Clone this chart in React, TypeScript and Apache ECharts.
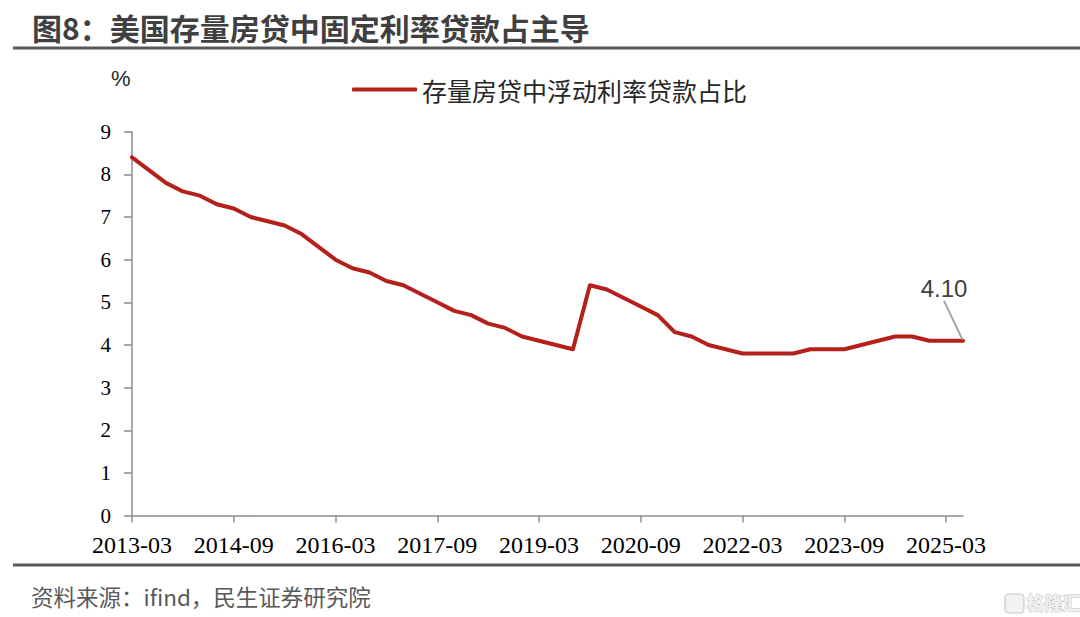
import React, { useEffect, useRef } from "react";
import * as echarts from "echarts";

const categories = [
  "2013-03", "2013-06", "2013-09", "2013-12",
  "2014-03", "2014-06", "2014-09", "2014-12",
  "2015-03", "2015-06", "2015-09", "2015-12",
  "2016-03", "2016-06", "2016-09", "2016-12",
  "2017-03", "2017-06", "2017-09", "2017-12",
  "2018-03", "2018-06", "2018-09", "2018-12",
  "2019-03", "2019-06", "2019-09", "2019-12",
  "2020-03", "2020-06", "2020-09", "2020-12",
  "2021-03", "2021-06", "2021-09", "2021-12",
  "2022-03", "2022-06", "2022-09", "2022-12",
  "2023-03", "2023-06", "2023-09", "2023-12",
  "2024-03", "2024-06", "2024-09", "2024-12",
  "2025-03", "2025-06",
];

const floatingShare = [
  8.4, 8.1, 7.8, 7.6,
  7.5, 7.3, 7.2, 7.0,
  6.9, 6.8, 6.6, 6.3,
  6.0, 5.8, 5.7, 5.5,
  5.4, 5.2, 5.0, 4.8,
  4.7, 4.5, 4.4, 4.2,
  4.1, 4.0, 3.9, 5.4,
  5.3, 5.1, 4.9, 4.7,
  4.3, 4.2, 4.0, 3.9,
  3.8, 3.8, 3.8, 3.8,
  3.9, 3.9, 3.9, 4.0,
  4.1, 4.2, 4.2, 4.1,
  4.1, 4.1,
];

const seriesName = "存量房贷中浮动利率贷款占比";
const titleText = "图8：美国存量房贷中固定利率贷款占主导";
const sourceText = "资料来源：ifind，民生证券研究院";
const unitText = "%";
const lastLabel = "4.10";

const RED = "#B3211A";
const CJK = "'Noto Sans CJK SC', 'Noto Sans', sans-serif";
const SERIF = "'Liberation Serif', 'DejaVu Serif', serif";
const SANS = "'Liberation Sans', Arial, sans-serif";

export default function App() {
  const ref = useRef<HTMLDivElement>(null);

  useEffect(() => {
    document.body.style.margin = "0";
    if (!ref.current) return;
    const chart = echarts.init(ref.current, undefined, { renderer: "svg" });
    const lastIdx = floatingShare.length - 1;
    const data = floatingShare.map((v, i) =>
      i === lastIdx
        ? {
            value: v,
            symbol: "circle",
            symbolSize: 2,
            label: {
              show: true,
              position: "top",
              distance: 5,
              formatter: lastLabel,
              fontFamily: SANS,
              fontSize: 24,
              color: "#404040",
            },
            labelLine: { show: true, lineStyle: { color: "#A6A6A6", width: 2 } },
          }
        : { value: v, symbol: "none" }
    );

    chart.setOption({
      animation: false,
      backgroundColor: "#ffffff",
      grid: { left: 132, right: 117, top: 131.7, bottom: 101.4, containLabel: false },
      legend: {
        data: [seriesName],
        left: 347,
        top: 72,
        icon: "roundRect",
        itemWidth: 65,
        itemHeight: 4,
        itemGap: 6,
        textStyle: { fontFamily: CJK, fontSize: 25, color: "#262626" },
      },
      xAxis: {
        type: "category",
        data: categories,
        boundaryGap: false,
        axisLine: { show: true, lineStyle: { color: "#8C8C8C", width: 1.5 } },
        axisTick: { show: true, interval: 5, length: 7, lineStyle: { color: "#8C8C8C", width: 1.5 } },
        axisLabel: {
          interval: 5,
          margin: 17,
          fontFamily: SERIF,
          fontSize: 24,
          color: "#000000",
        },
        splitLine: { show: false },
      },
      yAxis: {
        type: "value",
        min: 0,
        max: 9,
        interval: 1,
        axisLine: { show: true, lineStyle: { color: "#8C8C8C", width: 1.5 } },
        axisTick: { show: true, length: 8, lineStyle: { color: "#8C8C8C", width: 1.5 } },
        axisLabel: { margin: 21, fontFamily: SERIF, fontSize: 21, color: "#000000" },
        splitLine: { show: false },
      },
      series: [
        {
          name: seriesName,
          type: "line",
          data,
          showSymbol: true,
          showAllSymbol: true,
          symbol: "circle",
          symbolSize: 2,
          smooth: false,
          lineStyle: { color: RED, width: 4, cap: "round", join: "round" },
          itemStyle: { color: RED },
          labelLayout: { dx: -19, dy: -34 },
          emphasis: { disabled: true },
        },
      ],
      graphic: [
        {
          type: "text",
          left: 32,
          top: 11.5,
          style: {
            text: titleText,
            fontFamily: CJK,
            fontWeight: "bold",
            fontSize: 30,
            fill: "#404040",
          },
        },
        {
          type: "rect",
          shape: { x: 13, y: 46.5, width: 1067, height: 3 },
          style: { fill: "#595959" },
        },
        {
          type: "text",
          left: 111,
          top: 67,
          style: { text: unitText, fontFamily: SANS, fontSize: 22, fill: "#262626" },
        },
        {
          type: "rect",
          shape: { x: 13, y: 563.5, width: 1067, height: 3 },
          style: { fill: "#595959" },
        },
        {
          type: "text",
          left: 31,
          top: 585,
          style: { text: sourceText, fontFamily: CJK, fontSize: 22.5, fill: "#595959" },
        },
        {
          type: "rect",
          shape: { x: 1005, y: 594, width: 19, height: 19, r: 4 },
          style: { fill: "#F2F2F2", stroke: "#C8C8C8", lineWidth: 1.2 },
        },
        {
          type: "text",
          left: 1026,
          top: 592,
          style: {
            text: "格隆汇",
            fontFamily: CJK,
            fontWeight: "bold",
            fontSize: 18,
            fill: "#F2F2F2",
            stroke: "#C0C0C0",
            lineWidth: 1,
          },
        },
      ],
    });

    return () => chart.dispose();
  }, []);

  return <div ref={ref} style={{ width: 1080, height: 617, position: "absolute", left: 0, top: 0 }} />;
}
